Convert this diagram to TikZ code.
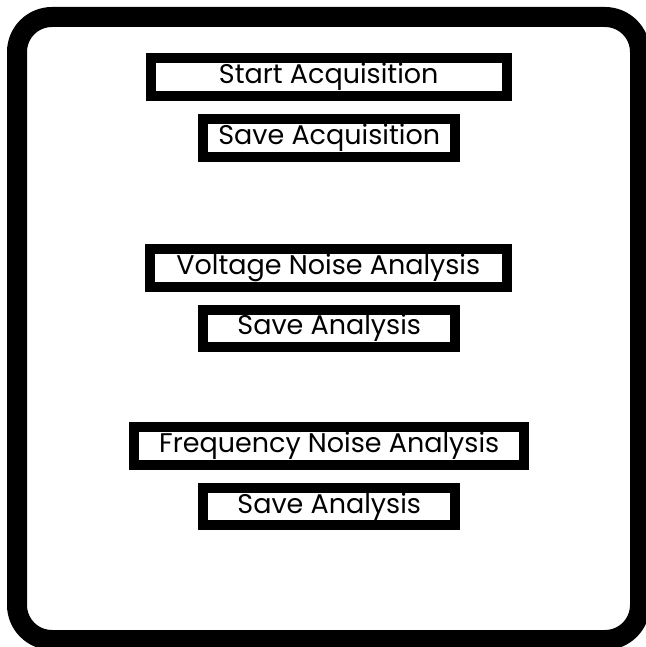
\documentclass[tikz,border=0pt]{standalone}
\usepackage{fontspec}
\setmainfont{Poppins}
\begin{document}
\begin{tikzpicture}[x=1pt,y=-1pt,
  stepbox/.style={draw=black,line width=10pt,fill=white,inner sep=0pt,
    minimum height=38pt,text height=19pt,text depth=6pt,
    font=\fontsize{27}{30}\selectfont,text=black}]
\useasboundingbox (0,0) rectangle (645,647);
% outer rounded frame
\draw[line width=20pt,rounded corners=35pt] (17,17) rectangle (640,640);
% buttons
\node[stepbox,minimum width=356pt] (start) at (328.7,77) {Start Acquisition};
\node[stepbox,minimum width=252pt] (saveacq) at (329.2,138.3) {Save Acquisition};
\node[stepbox,minimum width=357pt] (volt) at (328.3,267.5) {Voltage Noise Analysis};
\node[stepbox,minimum width=252pt,minimum height=37pt] (savevolt) at (329.2,328.3) {Save Analysis};
\node[stepbox,minimum width=390pt] (freq) at (329.2,445.8) {Frequency Noise Analysis};
\node[stepbox,minimum width=252pt,minimum height=37pt] (savefreq) at (329.2,506.7) {Save Analysis};
\end{tikzpicture}
\end{document}
